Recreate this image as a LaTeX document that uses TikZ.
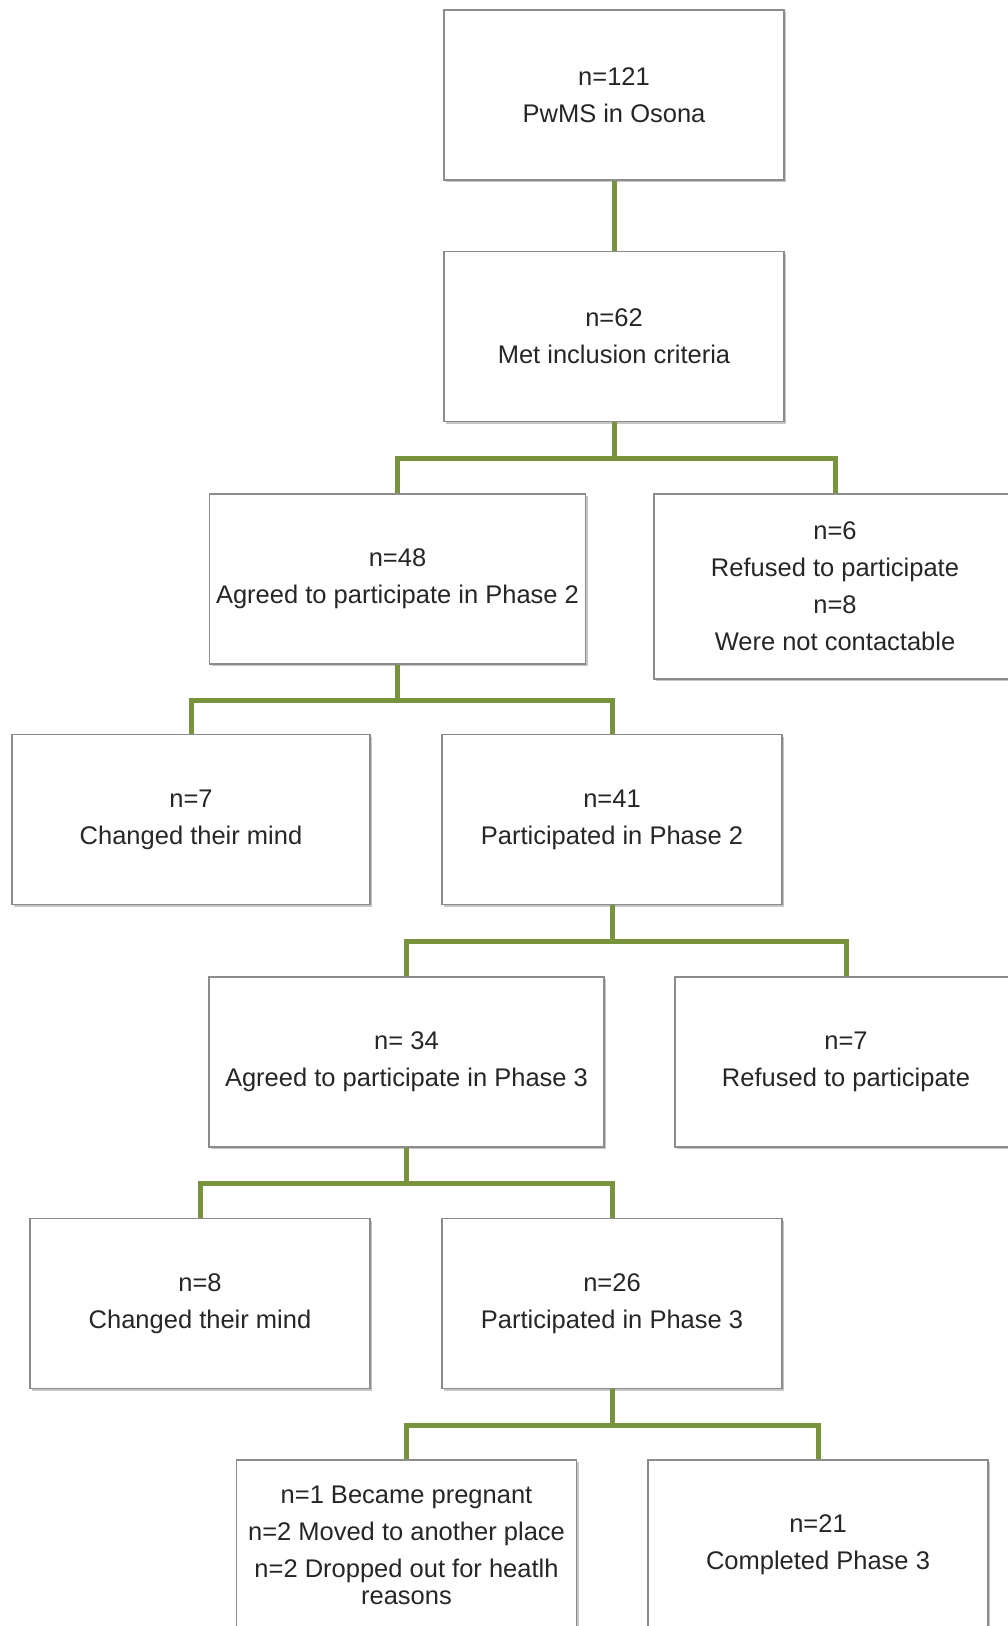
\documentclass[tikz,border=0pt]{standalone}
\usepackage{fontspec}
\setmainfont{Liberation Sans}
\usetikzlibrary{positioning, calc, shadows}
\definecolor{branchgreen}{RGB}{119,147,60}
\definecolor{boxgray}{RGB}{140,140,140}

\begin{document}
\begin{tikzpicture}[
    x=0.5pt, y=-0.5pt,
    font=\fontsize{12.75}{18.5}\selectfont,
    box/.style={draw=boxgray, line width=0.6pt, fill=white, minimum width=170pt, minimum height=85pt, align=center, text=black!85, drop shadow={shadow xshift=1.2pt, shadow yshift=-1.2pt, opacity=0.45}},
    link/.style={draw=branchgreen, line width=2.5pt}
]
    \useasboundingbox (0,0) rectangle (1007,1626);

    % Nodes
    \node[box] (pwms) at (614,95) {n=121\\PwMS in Osona};
    \node[box] (met) at (614,336.5) {n=62\\Met inclusion criteria};
    \node[box, minimum width=184pt] (agreed2) at (397.5,579) {n=48\\Agreed to participate in Phase 2};
    \node[box, minimum width=181pt, minimum height=92.5pt] (refused1) at (835,586.5) {n=6\\Refused to participate\\n=8\\Were not contactable};
    \node[box, minimum width=179pt] (changed1) at (191,819.5) {n=7\\Changed their mind};
    \node[box] (part2) at (612,819.5) {n=41\\Participated in Phase 2};
    \node[box, minimum width=197.5pt] (agreed3) at (406.5,1062) {n= 34\\Agreed to participate in Phase 3};
    \node[box, minimum width=171pt] (refused2) at (846,1062) {n=7\\Refused to participate};
    \node[box] (changed2) at (200,1303.5) {n=8\\Changed their mind};
    \node[box] (part3) at (612,1303.5) {n=26\\Participated in Phase 3};
    \node[box] (dropped) at (406.5,1545) {n=1 Became pregnant\\n=2 Moved to another place\\n=2 Dropped out for heatlh\\[-5pt]reasons};
    \node[box] (completed) at (818,1545) {n=21\\Completed Phase 3};

    % Connectors
    \draw[link] (pwms.south) -- (met.north);

    \draw[link] (met.south) -- ++(0,36) coordinate (j1);
    \draw[link] (agreed2.north) |- (j1) -| (refused1.north);

    \draw[link] (agreed2.south) -- ++(0,36) coordinate (j2);
    \draw[link] (changed1.north) |- (j2) -| (part2.north);

    \draw[link] (part2.south) -- ++(0,36) coordinate (j3);
    \draw[link] (agreed3.north) |- (j3) -| (refused2.north);

    \draw[link] (agreed3.south) -- ++(0,36) coordinate (j4);
    \draw[link] (changed2.north) |- (j4) -| (part3.north);

    \draw[link] (part3.south) -- ++(0,36) coordinate (j5);
    \draw[link] (dropped.north) |- (j5) -| (completed.north);

\end{tikzpicture}
\end{document}
